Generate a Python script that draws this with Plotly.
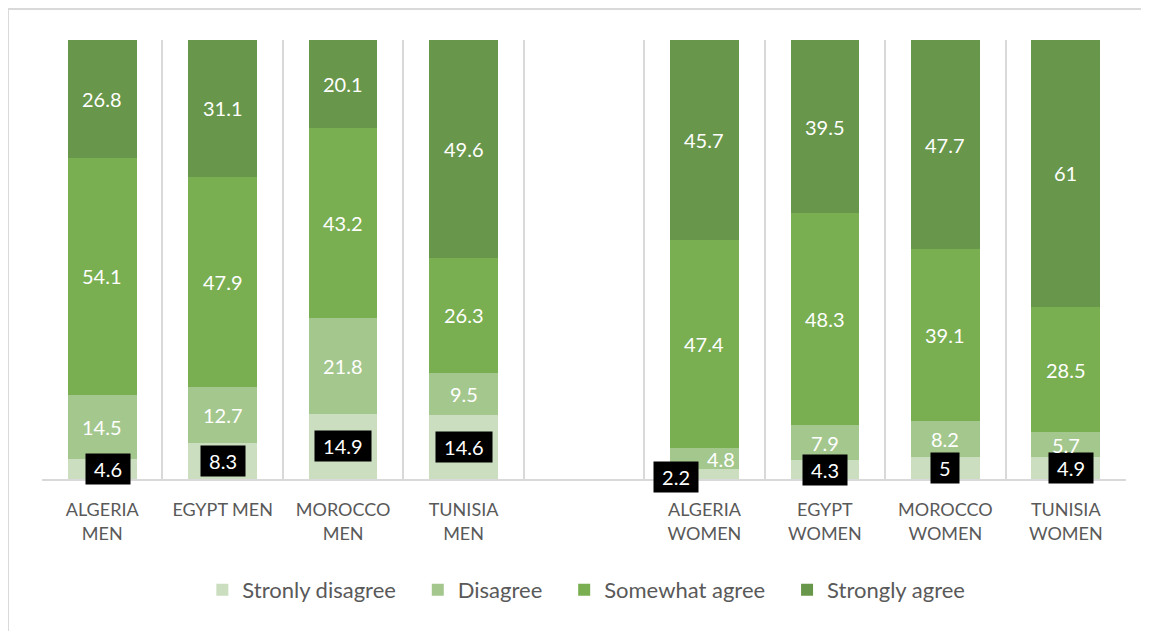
import plotly.graph_objects as go

categories = ["ALGERIA<br>MEN", "EGYPT MEN", "MOROCCO<br>MEN", "TUNISIA<br>MEN", " ",
              "ALGERIA<br>WOMEN", "EGYPT<br>WOMEN", "MOROCCO<br>WOMEN", "TUNISIA<br>WOMEN"]
strongly_disagree = [4.6, 8.3, 14.9, 14.6, None, 2.2, 4.3, 5, 4.9]
disagree = [14.5, 12.7, 21.8, 9.5, None, 4.8, 7.9, 8.2, 5.7]
somewhat_agree = [54.1, 47.9, 43.2, 26.3, None, 47.4, 48.3, 39.1, 28.5]
strongly_agree = [26.8, 31.1, 20.1, 49.6, None, 45.7, 39.5, 47.7, 61]

series = [
    ("Stronly disagree", strongly_disagree, "#cbdec0"),
    ("Disagree", disagree, "#a4c78e"),
    ("Somewhat agree", somewhat_agree, "#79ae51"),
    ("Strongly agree", strongly_agree, "#68964a"),
]

FONT = "Lato"
PAD = "\u00a0" * 3
fig = go.Figure()
for name, vals, col in series:
    fig.add_trace(go.Bar(x=categories, y=vals, name=name + PAD, marker_color=col,
                         marker_line_width=0, hoverinfo="skip"))

box_shift = {0: (6, 0), 5: (-28, -3), 8: (5, 0)}
annotations = []
for i, cat in enumerate(categories):
    base = 0
    for si, (name, vals, col) in enumerate(series):
        v = vals[i]
        if v is None:
            continue
        mid = base + v / 2
        if si == 0:
            xs, ys = box_shift.get(i, (0, 0))
            annotations.append(dict(x=cat, y=mid, text="\u00a0" + str(v) + "\u00a0",
                                    showarrow=False, bgcolor="black", borderpad=3,
                                    xshift=xs, yshift=ys,
                                    font=dict(family=FONT, size=20, color="white")))
        else:
            xs = 17 if (si == 1 and i == 5) else 0
            annotations.append(dict(x=cat, y=mid, text=str(v), showarrow=False,
                                    xshift=xs,
                                    font=dict(family=FONT, size=20, color="white")))
        base += v

fig.update_layout(
    barmode="stack",
    bargap=0.43,
    width=1149, height=631,
    margin=dict(l=34, r=31, t=32, b=160),
    paper_bgcolor="white", plot_bgcolor="white",
    font=dict(family=FONT, color="#595959"),
    annotations=annotations,
    showlegend=True,
    legend=dict(orientation="h", x=0.51, xanchor="center", y=-0.253, yanchor="middle",
                font=dict(family=FONT, size=22, color="#595959"),
                itemsizing="constant", traceorder="normal", itemwidth=30),
    xaxis=dict(type="category", showgrid=True, gridcolor="#d9d9d9", gridwidth=1.5,
               tickson="boundaries", ticks="", ticklabelstandoff=14,
               showline=True, linecolor="#d9d9d9",
               linewidth=1.5, tickfont=dict(family=FONT, size=18, color="#595959")),
    yaxis=dict(range=[0, 100], visible=False, showgrid=False, zeroline=False),
    shapes=[dict(type="rect", xref="paper", yref="paper",
                 x0=-0.0314, x1=1.2, y0=-0.6, y1=1.0706,
                 line=dict(color="#d9d9d9", width=2), fillcolor="rgba(0,0,0,0)")],
)

fig.write_html("out.html")
